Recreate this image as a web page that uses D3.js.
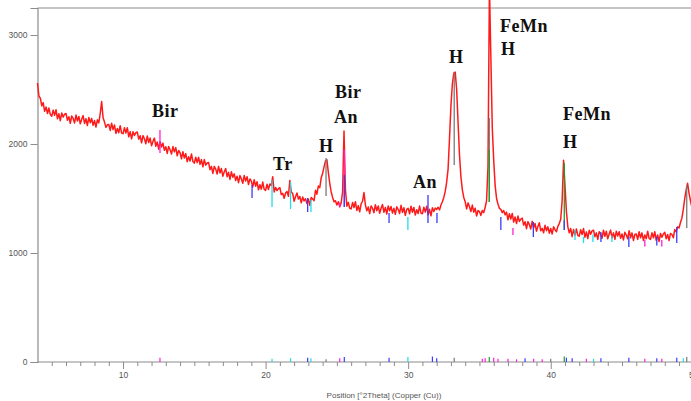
<!DOCTYPE html>
<html><head><meta charset="utf-8">
<script src="https://cdn.jsdelivr.net/npm/d3@7"></script>
<style>body{margin:0;background:#fff;overflow:hidden}</style>
</head><body>
<svg id="c" width="691" height="401"></svg>
<script>
// ---- data ----
const thetaStart = 4.0, thetaStep = 0.1;
const counts = [
2560,2440,2420,2350,2380,2300,2340,2280,2330,2270,
2255,2311,2263,2314,2231,2277,2214,2285,2247,2273,
2280,2218,2251,2190,2257,2235,2193,2266,2211,2253,
2185,2228,2261,2189,2232,2170,2243,2196,2234,2172,
2215,2156,2222,2194,2280,2390,2240,2201,2153,2176,
2180,2125,2191,2132,2174,2097,2143,2104,2168,2100,
2095,2150,2101,2150,2066,2113,2048,2112,2079,2104,
2110,2045,2076,2011,2077,2048,2003,2074,2014,2055,
1985,2024,2054,1979,2018,1953,2022,1972,2008,1942,
1975,1914,1978,1947,1908,1977,1928,1967,1892,1941,
1920,1865,1930,1871,1912,1838,1883,1844,1909,1839,
1825,1879,1829,1878,1813,1857,1791,1857,1806,1826,
1830,1765,1795,1730,1795,1770,1725,1795,1735,1775,
1705,1745,1775,1700,1740,1675,1745,1695,1726,1665,
1705,1645,1710,1680,1640,1712,1660,1700,1628,1680,
1660,1606,1672,1613,1654,1580,1626,1586,1651,1584,
1575,1631,1582,1633,1620,1700,1560,1602,1572,1589,
1600,1536,1547,1503,1550,1565,1520,1665,1560,1545,
1475,1517,1551,1495,1519,1460,1513,1478,1498,1455,
1495,1438,1510,1495,1480,1575,1540,1615,1600,1690,
1730,1790,1845,1855,1740,1640,1560,1510,1470,1480,
1440,1470,1425,1460,1560,2120,1580,1430,1465,1410,
1405,1463,1418,1471,1390,1435,1378,1450,1475,1555,
1440,1388,1423,1362,1432,1410,1370,1443,1388,1432,
1365,1410,1444,1374,1418,1358,1432,1387,1426,1366,
1410,1355,1424,1399,1363,1438,1372,1416,1346,1400,
1410,1360,1430,1374,1418,1348,1397,1362,1431,1366,
1360,1420,1375,1430,1350,1401,1341,1416,1381,1412,
1400,1420,1395,1440,1470,1510,1565,1650,1770,2050,
2350,2550,2650,2660,2500,2200,1900,1700,1580,1510,
1470,1405,1460,1425,1380,1440,1375,1410,1340,1390,
1380,1345,1390,1370,1420,1480,1800,3450,2800,2150,
1850,1620,1500,1450,1410,1400,1370,1390,1350,1375,
1305,1361,1312,1363,1283,1330,1270,1339,1290,1310,
1320,1256,1287,1223,1288,1260,1220,1291,1230,1271,
1200,1242,1277,1204,1226,1186,1254,1205,1240,1182,
1225,1175,1240,1215,1195,1245,1270,1310,1480,1850,
1620,1380,1240,1185,1225,1150,1215,1165,1220,1160,
1155,1214,1169,1224,1144,1194,1133,1208,1173,1203,
1210,1150,1185,1125,1195,1175,1135,1209,1154,1199,
1130,1175,1210,1140,1185,1125,1200,1155,1195,1135,
1175,1120,1190,1165,1130,1205,1140,1185,1115,1170,
1175,1125,1195,1140,1185,1115,1165,1130,1200,1135,
1125,1185,1140,1195,1115,1165,1105,1180,1145,1175,
1190,1130,1170,1115,1180,1170,1140,1215,1195,1240,
1230,1280,1320,1400,1500,1580,1640,1550,1480,1420,
1380
];
const yTicks = [0, 1000, 2000, 3000];
const xMajorTicks = [10, 20, 30, 40, 50];
const xMinorTicks = d3.range(5, 50, 1).filter(v => v % 10 !== 0);
const xTitle = "Position [°2Theta] (Copper (Cu))";

const phases = ["H", "FeMn", "Bir", "An", "Tr"];
const phaseColors = ["#7a7a7a", "#1f9e2a", "#ff1fd8", "#3b3bff", "#22dce8"];

// reference pattern sticks: position, phase, upper count, lower count
const stickTheta = [12.59, 19.05, 20.45, 21.75, 22.95, 23.18, 24.24, 25.2, 25.52, 25.52, 28.66, 29.98, 31.39, 32.02, 33.23, 35.69, 35.69, 36.5, 37.35, 38.78, 40.95, 40.95, 41.7, 42.3, 42.96, 43.52, 44.29, 45.48, 46.6, 47.44, 47.79, 48.84, 49.54];
const stickPhase = ["Bir","An","Tr","Tr","An","Tr","H","Bir","Bir","An","An","Tr","An","An","H","H","FeMn","An","Bir","An","FeMn","An","Tr","Tr","Tr","An","Tr","An","Bir","An","Bir","An","H"];
const stickHi = [2128,1624,1670,1651,1505,1486,1872,1460,1945,1716,1367,1330,1532,1367,2651,2239,1945,1330,1230,1284,1826,1300,1211,1150,1170,1193,1160,1147,1120,1150,1120,1239,1624];
const stickLo = [1917,1505,1422,1404,1376,1376,1523,1420,1422,1422,1275,1211,1275,1275,1807,1468,1468,1211,1165,1147,1211,1211,1119,1092,1100,1101,1100,1055,1060,1070,1060,1092,1229];

// bottom stick list: position, phase, height
const lowTheta = [12.59,20.45,21.75,22.95,23.18,24.24,25.2,25.52,28.66,29.98,31.7,32.0,33.23,35.2,35.4,35.69,36.0,36.3,37.0,37.6,38.2,38.8,39.4,40.0,40.95,41.1,41.5,42.5,43.0,43.52,45.48,46.6,47.44,47.79,48.84,49.3,49.54];
const lowPhase = ["Bir","Tr","Tr","An","Tr","H","Bir","An","An","Tr","An","An","H","Bir","Bir","FeMn","Bir","Bir","Bir","Bir","An","Bir","Bir","H","FeMn","An","An","Bir","Tr","An","An","Bir","An","Bir","An","Tr","H"];
const lowHeight = [40,30,35,40,35,25,35,45,40,45,50,35,40,30,35,45,40,30,30,25,35,30,25,30,50,40,35,30,30,35,40,30,35,30,40,35,45];

const labelText = ["Bir","Tr","H","Bir","An","An","H","FeMn","H","FeMn","H"];
const labelTheta = [12.03,20.52,23.74,24.87,24.80,30.34,32.86,36.44,36.51,40.86,40.86];
const labelCount = [2248,1761,1927,2422,2193,1596,2743,3028,2817,2220,1963];

// ---- chart ----
const W = 691, H = 401;
const svg = d3.select("#c");
const x = d3.scaleLinear().domain([4, 50]).range([37.5, 693.3]);
const y = d3.scaleLinear().domain([0, 3248]).range([362, 8]);
const color = d3.scaleOrdinal().domain(phases).range(phaseColors);
const axisCol = "#8c8c8c";
const textCol = "#555";

const pts = counts.map((c, i) => [thetaStart + i * thetaStep, c]);

// frame: top border
svg.append("line").attr("x1", x(4)).attr("x2", W).attr("y1", y(3248)).attr("y2", y(3248))
  .attr("stroke", axisCol).attr("stroke-width", 1.2);

// y axis
const yAxis = d3.axisLeft(y).tickValues(yTicks).tickSize(7).tickPadding(3).tickFormat(d3.format("d"));
const gy = svg.append("g").attr("transform", `translate(${x(4)},0)`).call(yAxis);
gy.select(".domain").attr("stroke", axisCol).attr("stroke-width", 1.2);
gy.selectAll(".tick line").attr("stroke", axisCol);
gy.selectAll("text").attr("fill", textCol).style("font", "8.5px 'Liberation Sans', Arial, sans-serif");

// x axis
const xAxis = d3.axisBottom(x).tickValues(xMajorTicks).tickSize(7).tickPadding(3).tickFormat(d3.format("d"));
const gx = svg.append("g").attr("transform", `translate(0,${y(0)})`).call(xAxis);
gx.select(".domain").attr("stroke", axisCol).attr("stroke-width", 1.2).attr("d", `M${x(4)},0H${x(50)}`);
gx.selectAll(".tick line").attr("stroke", axisCol);
gx.selectAll("text").attr("fill", textCol).style("font", "8.5px 'Liberation Sans', Arial, sans-serif");
const xMinor = d3.axisBottom(x).tickValues(xMinorTicks).tickSize(4).tickFormat("");
const gxm = svg.append("g").attr("transform", `translate(0,${y(0)})`).call(xMinor);
gxm.select(".domain").remove();
gxm.selectAll(".tick line").attr("stroke", axisCol);

svg.append("text").attr("x", 384).attr("y", 398).attr("text-anchor", "middle")
  .attr("fill", textCol).style("font", "8px 'Liberation Sans', Arial, sans-serif").text(xTitle);

// curve
const line = d3.line().x(d => x(d[0])).y(d => y(d[1]));
svg.append("path").datum(pts).attr("d", line).attr("fill", "none")
  .attr("stroke", "#ff1a1a").attr("stroke-width", 1.5).attr("stroke-linejoin", "round");

// sticks
svg.append("g").selectAll("line").data(stickTheta.map((t, i) => i)).join("line")
  .attr("x1", i => x(stickTheta[i])).attr("x2", i => x(stickTheta[i]))
  .attr("y1", i => y(stickHi[i])).attr("y2", i => y(stickLo[i]))
  .attr("stroke", i => color(stickPhase[i])).attr("stroke-width", 1.3);

svg.append("g").selectAll("line").data(lowTheta.map((t, i) => i)).join("line")
  .attr("x1", i => x(lowTheta[i])).attr("x2", i => x(lowTheta[i]))
  .attr("y1", i => y(lowHeight[i])).attr("y2", y(0))
  .attr("stroke", i => color(lowPhase[i])).attr("stroke-width", 1.2);

// labels
svg.append("g").selectAll("text").data(labelText.map((t, i) => i)).join("text")
  .attr("x", i => x(labelTheta[i])).attr("y", i => y(labelCount[i]))
  .attr("fill", "#111")
  .style("font", "bold 18px 'Liberation Serif', 'Times New Roman', serif")
  .style("letter-spacing", "0.5px")
  .text(i => labelText[i]);
</script>
</body></html>
